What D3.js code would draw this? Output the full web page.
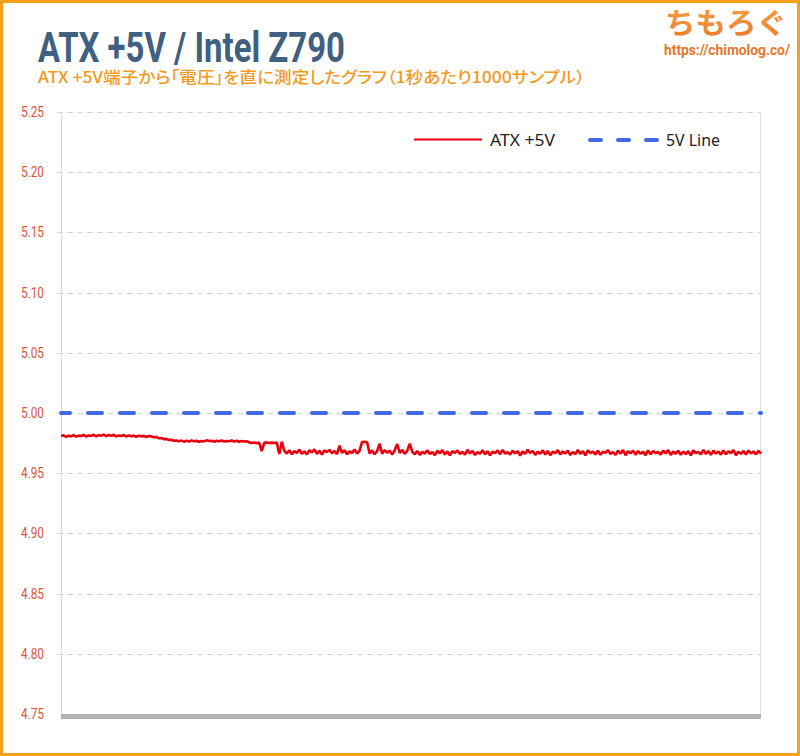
<!DOCTYPE html>
<html>
<head>
<meta charset="utf-8">
<script src="https://cdn.jsdelivr.net/npm/d3@7"></script>
<style>
  html, body { margin: 0; padding: 0; background: #fff; }
  svg { display: block; }
</style>
</head>
<body>
<svg id="chart" width="800" height="756"></svg>
<script>
// ---------- data ----------
const titleText = "ATX +5V / Intel Z790";
const subtitleText = "ATX +5V端子から「電圧」を直に測定したグラフ（1秒あたり1000サンプル）";
const seriesNames = ["ATX +5V", "5V Line"];
const yTickValues = [4.75, 4.80, 4.85, 4.90, 4.95, 5.00, 5.05, 5.10, 5.15, 5.20, 5.25];
const referenceVoltage = 5.00;

const voltsStart = [
  4.9808, 4.9815, 4.9802, 4.9811, 4.9806, 4.9817, 4.9804, 4.9812, 4.9809, 4.9818,
  4.9805, 4.9813, 4.9810, 4.9819, 4.9807, 4.9816, 4.9812, 4.9820, 4.9808, 4.9817,
  4.9811, 4.9819, 4.9806, 4.9814, 4.9809, 4.9817, 4.9805, 4.9813, 4.9808, 4.9811,
  4.9803, 4.9812, 4.9806, 4.9810, 4.9801, 4.9809
];
const voltsSlope = [
  4.9806, 4.9798, 4.9801, 4.9790, 4.9793, 4.9782, 4.9785, 4.9776, 4.9779, 4.9770, 4.9772
];
const voltsMid = [
  4.9765, 4.9771, 4.9762, 4.9769, 4.9764, 4.9772, 4.9766, 4.9770, 4.9761, 4.9768,
  4.9764, 4.9773, 4.9767, 4.9770, 4.9762, 4.9769, 4.9765, 4.9771, 4.9763, 4.9768,
  4.9766, 4.9772, 4.9764, 4.9769, 4.9761, 4.9767, 4.9763, 4.9766
];
const voltsStep = [
  4.9756, 4.9751, 4.9755, 4.9749, 4.9754, 4.9684, 4.9752, 4.9756, 4.9750, 4.9754,
  4.9751, 4.9755, 4.9660, 4.9762
];
const voltsAfterDrop = [
  4.9686, 4.9663, 4.9690, 4.9658, 4.9683, 4.9669, 4.9696, 4.9661, 4.9681, 4.9656,
  4.9692, 4.9672, 4.9698, 4.9660, 4.9687, 4.9654, 4.9689, 4.9675, 4.9694, 4.9665,
  4.9684, 4.9659, 4.9728, 4.9670, 4.9691, 4.9657, 4.9682, 4.9667, 4.9697, 4.9662,
  4.9688,
  4.9758, 4.9761, 4.9757,
  4.9664, 4.9689, 4.9658, 4.9683, 4.9745, 4.9662, 4.9692, 4.9671, 4.9686, 4.9655,
  4.9690, 4.9742, 4.9668, 4.9694, 4.9660, 4.9685, 4.9745
];
const voltsSteady = [
  4.9680, 4.9657, 4.9684, 4.9652, 4.9677, 4.9663, 4.9690, 4.9660, 4.9675, 4.9650,
  4.9686, 4.9666, 4.9692, 4.9655, 4.9681, 4.9648, 4.9683, 4.9669, 4.9688, 4.9659,
  4.9678, 4.9653, 4.9694, 4.9664, 4.9685, 4.9651, 4.9676, 4.9661, 4.9691, 4.9656,
  4.9682, 4.9649, 4.9679, 4.9667, 4.9689, 4.9658, 4.9693, 4.9663, 4.9674, 4.9654,
  4.9687, 4.9665, 4.9683, 4.9647, 4.9680, 4.9660, 4.9695, 4.9668, 4.9685, 4.9652,
  4.9677, 4.9662, 4.9690, 4.9655, 4.9684, 4.9650, 4.9679, 4.9666, 4.9692, 4.9657,
  4.9681, 4.9664, 4.9688, 4.9651, 4.9676, 4.9659, 4.9694, 4.9661, 4.9683, 4.9648,
  4.9689, 4.9667, 4.9680, 4.9656, 4.9686, 4.9653, 4.9678, 4.9670, 4.9691, 4.9660,
  4.9675, 4.9652, 4.9687, 4.9663, 4.9693, 4.9649, 4.9682, 4.9665, 4.9688, 4.9654,
  4.9684, 4.9661, 4.9679, 4.9650, 4.9690, 4.9657, 4.9685, 4.9668, 4.9676, 4.9655,
  4.9688, 4.9664, 4.9692, 4.9651, 4.9681, 4.9662, 4.9686, 4.9653, 4.9679, 4.9659,
  4.9683, 4.9648, 4.9690, 4.9666, 4.9677, 4.9656, 4.9694, 4.9660, 4.9684, 4.9652,
  4.9687, 4.9663, 4.9680, 4.9654, 4.9689, 4.9658, 4.9682, 4.9667, 4.9691, 4.9650,
  4.9678, 4.9661, 4.9685, 4.9655, 4.9688, 4.9664, 4.9681, 4.9657, 4.9686, 4.9662
];
const voltage = [].concat(voltsStart, voltsSlope, voltsMid, voltsStep, voltsAfterDrop, voltsSteady);

// ---------- layout ----------
const W = 800, H = 756;
const plot = { left: 61, right: 761, top: 112, bottom: 714 };

const svg = d3.select("#chart");

// background + orange frame
svg.append("rect").attr("x", 0).attr("y", 0).attr("width", W).attr("height", H).attr("fill", "#fff");
svg.append("rect").attr("x", 1.5).attr("y", 1.5).attr("width", W - 3).attr("height", H - 3)
  .attr("fill", "none").attr("stroke", "#f7a11a").attr("stroke-width", 3);

const x = d3.scaleLinear().domain([0, voltage.length - 1]).range([plot.left, plot.right]);
const y = d3.scaleLinear().domain([4.75, 5.25]).range([plot.bottom, plot.top]);

// gridlines
svg.append("g").selectAll("line").data(yTickValues.filter(v => v > 4.75)).join("line")
  .attr("x1", plot.left - 4).attr("x2", plot.right)
  .attr("y1", d => Math.round(y(d)) + 0.5).attr("y2", d => Math.round(y(d)) + 0.5)
  .attr("stroke", "#d4d4d4").attr("stroke-width", 1).attr("stroke-dasharray", "6,4");

// vertical borders of plot
svg.append("line").attr("x1", plot.left + 0.5).attr("x2", plot.left + 0.5)
  .attr("y1", plot.top).attr("y2", plot.bottom).attr("stroke", "#d9d9d9");
svg.append("line").attr("x1", plot.right - 0.5).attr("x2", plot.right - 0.5)
  .attr("y1", plot.top).attr("y2", plot.bottom).attr("stroke", "#e0e0e0");

// y axis labels
const yAxis = d3.axisLeft(y).tickValues(yTickValues).tickFormat(d3.format(".2f")).tickSize(0).tickPadding(17);
const gy = svg.append("g").attr("transform", `translate(${plot.left},0)`).call(yAxis);
gy.select(".domain").remove();
gy.selectAll("text")
  .attr("fill", "#d9553a")
  .attr("textLength", 23).attr("lengthAdjust", "spacingAndGlyphs")
  .style("font-family", "'Liberation Sans Narrow', 'Roboto', sans-serif")
  .style("font-size", "14px");

// bottom thick axis bar
svg.append("line").attr("x1", plot.left).attr("x2", plot.right)
  .attr("y1", y(4.75) + 2.5).attr("y2", y(4.75) + 2.5)
  .attr("stroke", "#b3b3b3").attr("stroke-width", 5);

// 5V reference dashed line
svg.append("line")
  .attr("x1", x(0)).attr("x2", x(voltage.length - 1))
  .attr("y1", y(referenceVoltage)).attr("y2", y(referenceVoltage))
  .attr("stroke", "#4169e1").attr("stroke-width", 4)
  .attr("stroke-linecap", "round")
  .attr("stroke-dasharray", "14,18").attr("stroke-dashoffset", 5);

// voltage trace
const line = d3.line().x((d, i) => x(i)).y(d => y(d));
svg.append("path").datum(voltage)
  .attr("d", line)
  .attr("fill", "none").attr("stroke", "#e8000c").attr("stroke-width", 2.6)
  .attr("stroke-linejoin", "bevel");

// legend
const legend = svg.append("g");
legend.append("line").attr("x1", 414).attr("x2", 482).attr("y1", 139.5).attr("y2", 139.5)
  .attr("stroke", "#e8000c").attr("stroke-width", 2);
legend.append("text").attr("x", 490).attr("y", 146).text(seriesNames[0])
  .attr("fill", "#222").attr("textLength", 65).attr("lengthAdjust", "spacingAndGlyphs")
  .style("font-family", "'Noto Sans', sans-serif").style("font-size", "16px");
legend.append("line").attr("x1", 590).attr("x2", 660).attr("y1", 140).attr("y2", 140)
  .attr("stroke", "#4169e1").attr("stroke-width", 4).attr("stroke-linecap", "round")
  .attr("stroke-dasharray", "11,17");
legend.append("text").attr("x", 666).attr("y", 146).text(seriesNames[1])
  .attr("fill", "#222").attr("textLength", 54).attr("lengthAdjust", "spacingAndGlyphs")
  .style("font-family", "'Noto Sans', sans-serif").style("font-size", "16px");

// titles
svg.append("text").attr("x", 38).attr("y", 62).text(titleText)
  .attr("fill", "#41607f")
  .attr("textLength", 307).attr("lengthAdjust", "spacingAndGlyphs")
  .style("font-family", "'Liberation Sans Narrow', 'Roboto', sans-serif")
  .style("font-weight", "bold").style("font-size", "42px");
svg.append("text").attr("x", 38).attr("y", 83).text(subtitleText)
  .attr("fill", "#f29a1f")
  .attr("textLength", 547).attr("lengthAdjust", "spacingAndGlyphs")
  .style("font-family", "'Noto Sans CJK JP', sans-serif")
  .style("font-feature-settings", "'palt'")
  .style("font-weight", "500")
  .style("font-size", "16px");

// logo
const defs = svg.append("defs");
const grad = defs.append("linearGradient").attr("id", "logoGrad").attr("x1", 0).attr("y1", 0).attr("x2", 0).attr("y2", 1);
grad.append("stop").attr("offset", "0%").attr("stop-color", "#f7a24a");
grad.append("stop").attr("offset", "100%").attr("stop-color", "#ec7a28");
svg.append("text").attr("x", 665).attr("y", 34).text("ちもろぐ")
  .attr("fill", "url(#logoGrad)")
  .attr("textLength", 122).attr("lengthAdjust", "spacingAndGlyphs")
  .style("font-family", "'Noto Sans CJK JP', sans-serif").style("font-weight", "bold").style("font-size", "29px");
svg.append("text").attr("x", 664).attr("y", 55).text("https://chimolog.co/")
  .attr("fill", "#e5782c")
  .attr("textLength", 126).attr("lengthAdjust", "spacingAndGlyphs")
  .style("font-family", "'Liberation Sans Narrow', 'Roboto', sans-serif").style("font-weight", "bold").style("font-size", "15px");
</script>
</body>
</html>
